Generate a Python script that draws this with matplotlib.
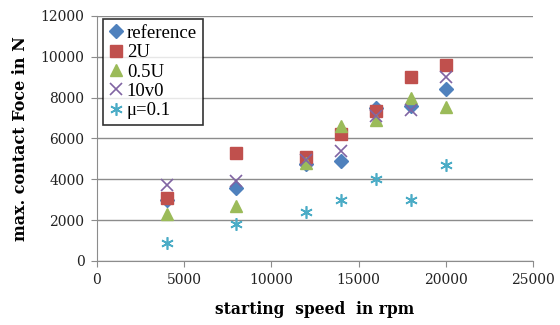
import matplotlib
matplotlib.use("Agg")
import matplotlib.pyplot as plt

# starting speed in rpm
speeds = [4000, 8000, 12000, 14000, 16000, 18000, 20000]

# max contact force in N for each variant
reference = [3000, 3550, 4750, 4900, 7500, 7600, 8400]
u2 = [3100, 5300, 5100, 6200, 7350, 9000, 9600]
u05 = [2300, 2700, 4800, 6600, 6900, 8000, 7550]
v10 = [3700, 3900, 4950, 5400, 7100, 7400, 9000]
mu01 = [900, 1800, 2400, 3000, 4000, 3000, 4700]

names = ["reference", "2U", "0.5U", "10v0", "\u03bc=0.1"]

serif = "DejaVu Serif"

fig = plt.figure(figsize=(5.6, 3.25), dpi=100)
ax = fig.add_axes([0.173, 0.197, 0.779, 0.754])

ax.plot(speeds, reference, "D", color="#4F81BD", ms=7, ls="none", label=names[0], zorder=3)
ax.plot(speeds, u2, "s", color="#C0504D", ms=8.5, ls="none", label=names[1], zorder=3)
ax.plot(speeds, u05, "^", color="#9BBB59", ms=9, ls="none", label=names[2], zorder=3)
ax.plot(speeds, v10, "x", color="#8064A2", ms=8, mew=1.2, ls="none", label=names[3], zorder=3)
ax.plot(speeds, mu01, marker=(6, 2, 0), color="#4BACC6", ms=9, mew=1.2, ls="none", label=names[4], zorder=3)

ax.set_xlim(0, 25000)
ax.set_ylim(0, 12000)
ax.set_xticks(range(0, 25001, 5000))
ax.set_yticks(range(0, 12001, 2000))
ax.grid(axis="y", color="#8c8c8c", lw=1)
ax.set_axisbelow(True)

for s in ["top", "right"]:
    ax.spines[s].set_visible(False)
for s in ["left", "bottom"]:
    ax.spines[s].set_color("#8c8c8c")
ax.tick_params(colors="#8c8c8c", labelcolor="#222222", labelsize=10, length=4, direction="out", pad=5)
for lab in ax.get_xticklabels() + ax.get_yticklabels():
    lab.set_family(serif)

ax.set_xlabel("starting  speed  in rpm", family=serif, fontweight="bold", fontsize=11.2, labelpad=10)
ax.set_ylabel("max. contact Foce in N", family=serif, fontweight="bold", fontsize=11.5, labelpad=8)

leg = ax.legend(loc="upper left", bbox_to_anchor=(0.0, 1.01),
                prop={"family": "Liberation Serif", "size": 13.5},
                frameon=True, fancybox=False, handlelength=0.8, handletextpad=0.2,
                labelspacing=0.12, borderpad=0.3, borderaxespad=0.3)
leg.get_frame().set_edgecolor("black")
leg.get_frame().set_linewidth(1.2)

fig.savefig("out.png", dpi=100)
